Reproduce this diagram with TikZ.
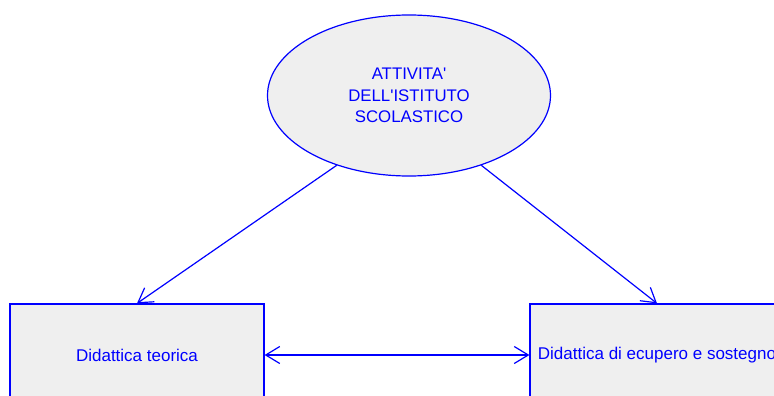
\documentclass[tikz,border=0pt]{standalone}
\usepackage{fontspec}
\setmainfont{Liberation Sans}
\usetikzlibrary{shapes.geometric,arrows.meta}

\definecolor{bordo}{RGB}{0,0,255}
\definecolor{sfondo}{RGB}{239,239,239}

\tikzset{
  attivita/.style={ellipse, draw=bordo, fill=sfondo, line width=1.2pt,
    minimum width=283pt, minimum height=161pt, inner sep=0pt,
    text=bordo, align=center, font=\fontsize{16.8}{21.5}\selectfont},
  didattica/.style={rectangle, draw=bordo, fill=sfondo, line width=1.2pt,
    minimum width=254pt, minimum height=102pt, inner sep=0pt,
    text=bordo, font=\fontsize{17}{20}\selectfont},
  freccia/.style={draw=bordo, line width=1.2pt,
    -{Straight Barb[length=14pt,width=17pt,line width=1.2pt]}},
  doppia/.style={freccia,
    {Straight Barb[length=14pt,width=17pt,line width=1.2pt]}-{Straight Barb[length=14pt,width=17pt,line width=1.2pt]}}
}

\begin{document}
\begin{tikzpicture}[x=1pt, y=-1pt]
  \clip (0, 0) rectangle (774, 396);

  \node[attivita] (istituto) at (409, 95.5)
    {ATTIVITA\textquotesingle\\DELL\textquotesingle ISTITUTO\\SCOLASTICO};

  \node[didattica] (teorica) at (137, 355) {Didattica teorica};
  \node[didattica] (recupero) at (657, 355) {Didattica di ecupero e sostegno};

  \draw[freccia] (istituto.224) -- (teorica.north);
  \draw[freccia] (istituto.316) -- (recupero.north);
  \draw[doppia] (teorica.east) -- (recupero.west);
\end{tikzpicture}
\end{document}
